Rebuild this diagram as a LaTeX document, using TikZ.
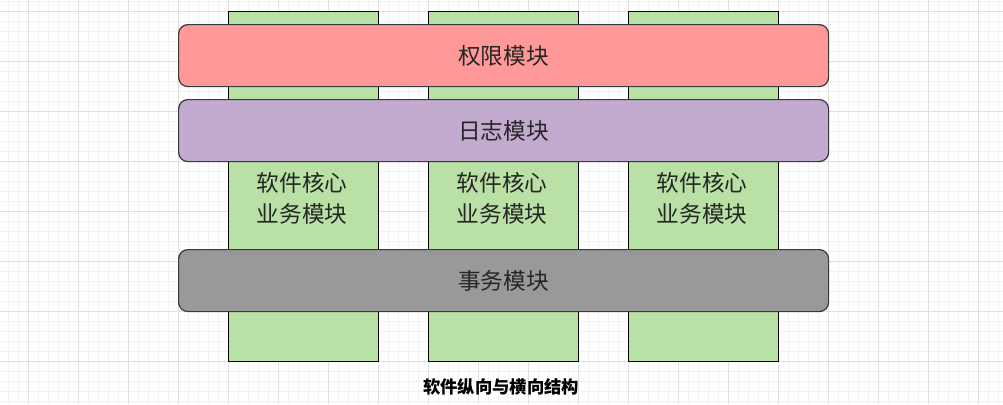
\documentclass[tikz,border=0pt]{standalone}
\usepackage{fontspec}
\newfontfamily\cjk{Noto Sans CJK SC}
\definecolor{gridminor}{HTML}{F2F2F2}
\definecolor{gridmajor}{HTML}{E0E0E0}
\definecolor{colgreen}{HTML}{B9E0A5}
\definecolor{barred}{HTML}{FF9999}
\definecolor{barpurple}{HTML}{C3ABD0}
\definecolor{bargray}{HTML}{999999}
\definecolor{edge}{HTML}{36393D}
\begin{document}
\begin{tikzpicture}[x=0.75pt,y=-0.75pt,
  col/.style={draw=black,line width=0.9pt,fill=colgreen,minimum width=150*0.75pt,minimum height=350*0.75pt,inner sep=0pt,anchor=north west},
  bar/.style={draw=edge,line width=0.9pt,rounded corners=7pt,minimum width=650*0.75pt,minimum height=62*0.75pt,inner sep=0pt,anchor=north west,font=\cjk\fontsize{17}{20}\selectfont,text=black!85},
  coltext/.style={font=\cjk\fontsize{17}{23.2}\selectfont,align=center,text=black!85}]
\useasboundingbox (0,0) rectangle (1003,404);
\fill[white] (0,0) rectangle (1003,404);
% grid
\foreach \x in {-2,8,...,1002} \draw[gridminor,line width=0.6pt] (\x,0) -- (\x,404);
\foreach \y in {1,11,...,404} \draw[gridminor,line width=0.6pt] (0,\y) -- (1003,\y);
\foreach \x in {28,78,...,1002} \draw[gridmajor,line width=0.6pt] (\x,0) -- (\x,404);
\foreach \y in {11,61,...,404} \draw[gridmajor,line width=0.6pt] (0,\y) -- (1003,\y);
% columns
\node[col] (c1) at (228,11) {};
\node[col] (c2) at (428,11) {};
\node[col] (c3) at (628,11) {};
\node[coltext] (t1) at (302,198.5) {软件核心\\业务模块};
\node[coltext] (t2) at (502,198.5) {软件核心\\业务模块};
\node[coltext] (t3) at (702,198.5) {软件核心\\业务模块};
% bars
\node[bar,fill=barred] (b1) at (178,24) {权限模块};
\node[bar,fill=barpurple] (b2) at (178,99) {日志模块};
\node[bar,fill=bargray] (b3) at (178,249) {事务模块};
% title
\node[font=\cjk\bfseries\fontsize{13}{15}\selectfont] (title) at (501,387) {软件纵向与横向结构};
\end{tikzpicture}
\end{document}
